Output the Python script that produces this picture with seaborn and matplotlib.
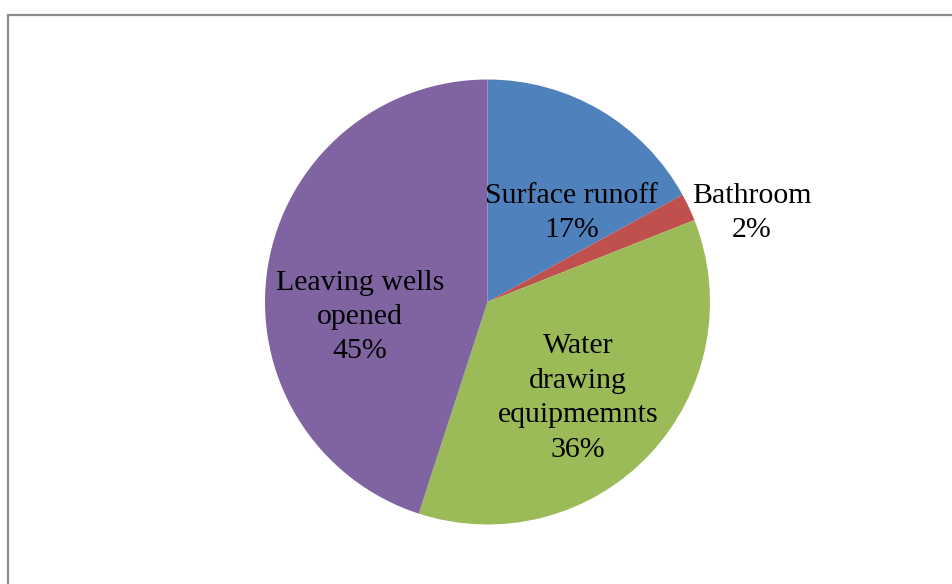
import matplotlib
matplotlib.use("Agg")
import matplotlib.pyplot as plt
import numpy as np
import seaborn as sns
from matplotlib.patches import Rectangle

# Sources of well contamination (percent)
categories = ["Surface runoff", "Bathroom", "Water\ndrawing\nequipmemnts", "Leaving wells\nopened"]
shares = [17, 2, 36, 45]
colors = ["#4F81BD", "#C0504D", "#9BBB59", "#8064A2"]

# Label placement: radial distance (pie radius = 1) and angular nudge (deg) from slice middle
label_radius = [0.551, 1.254, 0.593, 0.577]
label_nudge = [-12.9, -6.6, -3.5, 15.7]

sns.set_theme(style="white")
plt.rcParams["font.family"] = ["Liberation Serif", "DejaVu Serif"]

W, H, DPI = 953, 584, 100
fig = plt.figure(figsize=(W / DPI, H / DPI), dpi=DPI)
fig.patch.set_facecolor("white")

# Chart frame (runs past the right and bottom edge)
fig.patches.append(Rectangle((8 / W, -0.1), 1.1, 1 - 15 / H + 0.1,
                             transform=fig.transFigure, fill=False,
                             edgecolor="#8c8c8c", linewidth=1.6, zorder=0))

ax = fig.add_axes([0, 0, 1, 1])
wedges, _ = ax.pie(shares, colors=colors, startangle=90, counterclock=False,
                   radius=1.0, wedgeprops=dict(linewidth=0))

# One data unit = pie radius in pixels on both axes
cx, cy, r = 487.5, 302.0, 222.5
ax.set_aspect("auto")
ax.set_xlim(-cx / r, (W - cx) / r)
ax.set_ylim(-(H - cy) / r, cy / r)
ax.axis("off")

for w, name, val, lr, nd in zip(wedges, categories, shares, label_radius, label_nudge):
    mid = np.deg2rad((w.theta1 + w.theta2) / 2 + nd)
    ax.text(lr * np.cos(mid), lr * np.sin(mid), f"{name}\n{val}%",
            ha="center", va="center", fontsize=21.5, color="black",
            linespacing=1.42, multialignment="center")

fig.savefig("out.png", dpi=DPI, facecolor="white")
